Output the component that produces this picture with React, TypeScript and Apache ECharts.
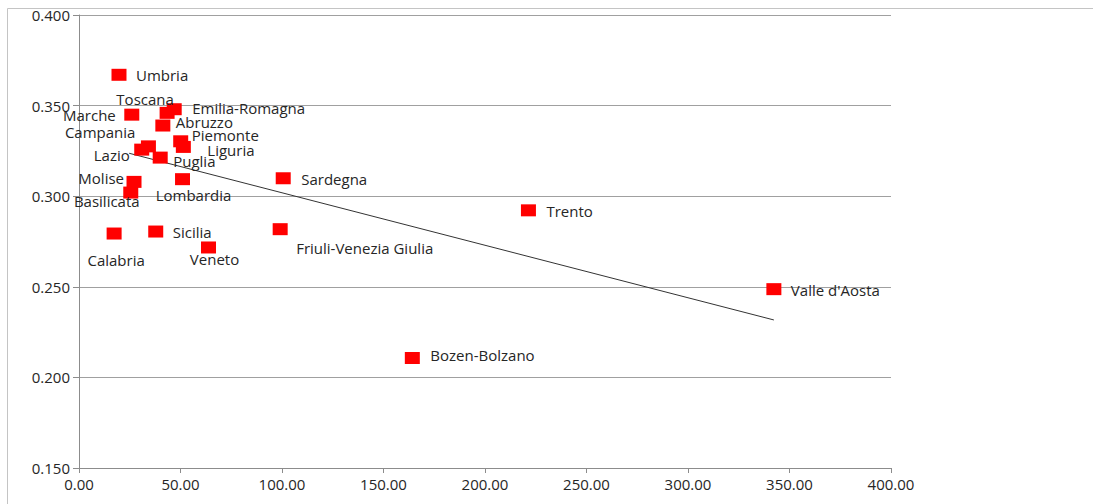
import React, { useEffect, useRef } from "react";
import * as echarts from "echarts";

const regions = [
  "Umbria", "Toscana", "Emilia-Romagna", "Marche", "Abruzzo", "Campania", "Piemonte",
  "Liguria", "Lazio", "Puglia", "Molise", "Lombardia", "Basilicata", "Sicilia",
  "Calabria", "Veneto", "Sardegna", "Trento", "Friuli-Venezia Giulia", "Valle d'Aosta",
  "Bozen-Bolzano",
];
const xValues = [19.7, 43.4, 46.9, 26.0, 41.3, 34.2, 50.1, 51.4, 30.9, 40.0, 27.1, 51.0, 25.5, 37.8, 17.3, 63.8, 100.6, 221.4, 99.1, 342.3, 164.2];
const yValues = [0.367, 0.346, 0.348, 0.345, 0.339, 0.3275, 0.3303, 0.3272, 0.3257, 0.3213, 0.3079, 0.3094, 0.302, 0.2805, 0.2794, 0.2717, 0.3099, 0.2922, 0.2818, 0.2487, 0.2107];
const trendX = [24.7, 342.3];
const trendY = [0.3237, 0.2317];
const xTicks = [0, 400, 50];
const yTicks = [0.15, 0.4, 0.05];

// label placement: [align, dx, dy] relative to marker centre
const labelPlacement: Record<string, [string, number, number]> = {
  "Umbria": ["left", 17, 0],
  "Toscana": ["center", -22, -14],
  "Emilia-Romagna": ["left", 18, -1],
  "Marche": ["right", -16, 0],
  "Abruzzo": ["left", 13, -4],
  "Campania": ["right", -13, -14],
  "Piemonte": ["left", 11, -6],
  "Liguria": ["left", 24, 3],
  "Lazio": ["right", -12, 5],
  "Puglia": ["left", 13, 3],
  "Molise": ["right", -10, -4],
  "Lombardia": ["center", 11, 16],
  "Basilicata": ["center", -24, 8],
  "Sicilia": ["left", 17, 0],
  "Calabria": ["center", 2, 26],
  "Veneto": ["center", 6, 12],
  "Sardegna": ["left", 18, 1],
  "Trento": ["left", 18, 1],
  "Friuli-Venezia Giulia": ["left", 16, 19],
  "Valle d'Aosta": ["left", 17, 1],
  "Bozen-Bolzano": ["left", 18, -3],
};

const FONT = "'Open Sans', sans-serif";

export default function App() {
  const ref = useRef<HTMLDivElement>(null);
  useEffect(() => {
    if (!ref.current) return;
    const chart = echarts.init(ref.current, null, { renderer: "svg" });
    const points = regions.map((name, i) => {
      const p = labelPlacement[name];
      return {
        name,
        value: [xValues[i], yValues[i]],
        label: {
          show: true,
          formatter: name,
          position: "inside",
          align: p[0],
          verticalAlign: "middle",
          offset: [p[1], p[2]],
          color: "#262626",
          fontSize: 15,
          lineHeight: 13,
          fontFamily: FONT,
        },
      };
    });
    chart.setOption({
      animation: false,
      backgroundColor: "#ffffff",
      grid: { left: 79, top: 15, right: 202, bottom: 36, containLabel: false },
      graphic: [
        {
          type: "rect",
          left: 5,
          top: 6,
          shape: { width: 1200, height: 600 },
          style: { fill: "none", stroke: "#c4c4c4", lineWidth: 1 },
          silent: true,
        },
      ],
      xAxis: {
        type: "value",
        min: xTicks[0],
        max: xTicks[1],
        interval: xTicks[2],
        axisLine: { show: true, lineStyle: { color: "#8c8c8c" } },
        axisTick: { show: true, length: 5, lineStyle: { color: "#8c8c8c" } },
        splitLine: { show: false },
        axisLabel: {
          formatter: (v: number) => v.toFixed(2),
          color: "#262626",
          fontSize: 15,
          fontFamily: FONT,
          margin: 8,
        },
      },
      yAxis: {
        type: "value",
        min: yTicks[0],
        max: yTicks[1],
        interval: yTicks[2],
        axisLine: { show: true, lineStyle: { color: "#8c8c8c" } },
        axisTick: { show: true, length: 6, lineStyle: { color: "#8c8c8c" } },
        splitLine: { show: true, lineStyle: { color: "#a0a0a0" } },
        axisLabel: {
          formatter: (v: number) => v.toFixed(3),
          color: "#262626",
          fontSize: 15,
          fontFamily: FONT,
          margin: 9,
        },
      },
      series: [
        {
          type: "line",
          data: trendX.map((x, i) => [x, trendY[i]]),
          symbol: "none",
          lineStyle: { color: "#333333", width: 1 },
          silent: true,
          z: 1,
        },
        {
          type: "scatter",
          data: points,
          symbol: "rect",
          symbolSize: [15, 12],
          itemStyle: { color: "#ff0000", opacity: 1 },
          z: 2,
        },
      ],
    });
    return () => chart.dispose();
  }, []);
  return (
    <div
      ref={ref}
      style={{ position: "absolute", left: 0, top: 0, width: 1093, height: 504, background: "#fff" }}
    />
  );
}
